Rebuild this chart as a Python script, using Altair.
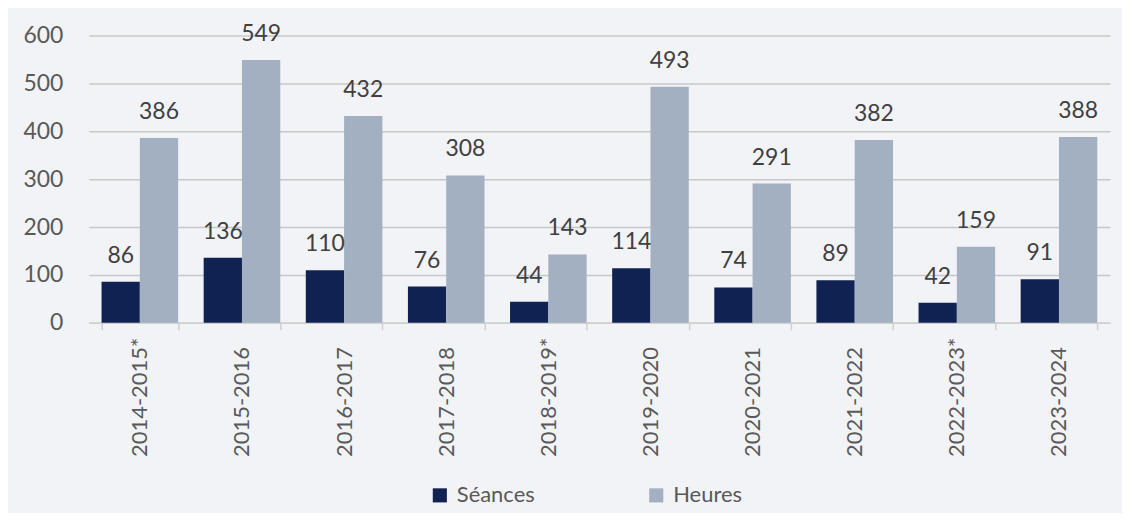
import altair as alt
import pandas as pd

periods = ["2014-2015*", "2015-2016", "2016-2017", "2017-2018", "2018-2019*",
           "2019-2020", "2020-2021", "2021-2022", "2022-2023*", "2023-2024"]
seances = [86, 136, 110, 76, 44, 114, 74, 89, 42, 91]
heures = [386, 549, 432, 308, 143, 493, 291, 382, 159, 388]
series = ["Séances", "Heures"]
colors = ["#0f2251", "#a3b0c2"]

rows = []
for p, s, h in zip(periods, seances, heures):
    rows.append({"periode": p, "serie": series[0], "valeur": s})
    rows.append({"periode": p, "serie": series[1], "valeur": h})
df = pd.DataFrame(rows)

FONT = "Lato"

x = alt.X("periode:N", sort=periods, title=None,
          scale=alt.Scale(paddingInner=0.25, paddingOuter=0.125),
          axis=alt.Axis(labelAngle=-90, labelAlign="left", labelBaseline="middle",
                        labelPadding=127, labelFontSize=22, labelColor="#595959",
                        labelFont=FONT, domainColor="#d0d0d0", domainWidth=1.5,
                        tickColor="#d0d0d0", tickWidth=1.5, tickSize=7,
                        tickBand="extent", grid=False))
xo = alt.XOffset("serie:N", sort=series, scale=alt.Scale(paddingInner=0, paddingOuter=0))
y = alt.Y("valeur:Q", title=None,
          scale=alt.Scale(domain=[0, 600], nice=False),
          axis=alt.Axis(values=[0, 100, 200, 300, 400, 500, 600], ticks=False, domain=False,
                        labelPadding=26, labelFontSize=23, labelColor="#595959",
                        labelFont=FONT, gridColor="#c8c8c8", gridWidth=1.5))
color = alt.Color("serie:N", sort=series,
                  scale=alt.Scale(domain=series, range=colors),
                  legend=alt.Legend(title=None, orient="none", legendX=341, legendY=450,
                                    direction="horizontal", symbolType="square",
                                    symbolSize=200, symbolStrokeWidth=0, symbolOpacity=1,
                                    labelFontSize=22, labelFont=FONT, labelColor="#595959",
                                    columnPadding=110, labelOffset=6))

bars = alt.Chart(df).mark_bar(opacity=1).encode(x=x, xOffset=xo, y=y, color=color)
labels = alt.Chart(df).mark_text(baseline="alphabetic", dy=-19, fontSize=23,
                                  font=FONT, color="#404040").encode(
    x=x, xOffset=xo, y=y, text="valeur:Q")

chart = (bars + labels).properties(
    width=1024, height=288,
    background="#f2f3f7",
    autosize=alt.AutoSizeParams(type="none"),
    padding={"left": 81, "top": 27, "right": 12, "bottom": 190},
).configure_view(stroke=None)

chart.save("out.html", embed_options={"renderer": "svg", "actions": False})
